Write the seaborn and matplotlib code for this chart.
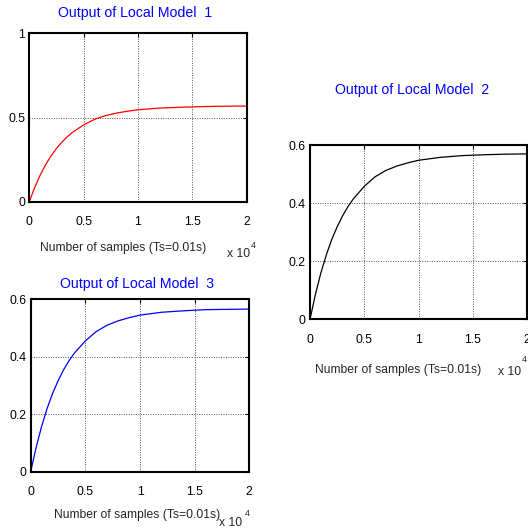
import matplotlib
matplotlib.use("Agg")
import matplotlib.pyplot as plt
import seaborn as sns
import pandas as pd
from matplotlib.ticker import FuncFormatter

# ---- data ----
samples = [0, 500, 1000, 1500, 2000, 2500, 3000, 3500, 4000, 5000, 6000,
           7000, 8000, 9000, 10000, 12000, 14000, 16000, 18000, 20000]
model1 = [0, 0.085, 0.158, 0.220, 0.272, 0.316, 0.354, 0.386, 0.413, 0.456,
          0.489, 0.511, 0.526, 0.537, 0.546, 0.556, 0.561, 0.565, 0.567, 0.568]
model2 = [0, 0.086, 0.160, 0.222, 0.275, 0.319, 0.357, 0.389, 0.416, 0.459,
          0.492, 0.514, 0.529, 0.540, 0.549, 0.559, 0.565, 0.568, 0.570, 0.571]
model3 = [0, 0.085, 0.158, 0.220, 0.272, 0.316, 0.354, 0.386, 0.413, 0.455,
          0.488, 0.510, 0.525, 0.536, 0.545, 0.555, 0.560, 0.564, 0.565, 0.566]

titles = ["Output of Local Model  1", "Output of Local Model  2", "Output of Local Model  3"]
xlabel = "Number of samples (Ts=0.01s)"
xticks = [0, 5000, 10000, 15000, 20000]
yticks1 = [0, 0.5, 1]
yticks23 = [0, 0.2, 0.4, 0.6]

sns.set_style("white")
plt.rcParams['font.family'] = ['Liberation Sans', 'DejaVu Sans']

W, H = 528, 530
fig = plt.figure(figsize=(W / 100, H / 100), dpi=100)


def fx(x):
    return x / W


def fy(y):
    return 1 - y / H


def make_axes(left, top, right, bottom):
    return fig.add_axes([fx(left), fy(bottom), (right - left) / W, (bottom - top) / H])


ax1 = make_axes(29.3, 33.3, 246.7, 201.7)
ax2 = make_axes(310, 145.5, 527, 319.3)
ax3 = make_axes(30.7, 299.3, 249.3, 471.7)

df = pd.DataFrame({"samples": samples, "m1": model1, "m2": model2, "m3": model3})

sns.lineplot(data=df, x="samples", y="m1", ax=ax1, color="red", linewidth=0.9)
sns.lineplot(data=df, x="samples", y="m2", ax=ax2, color="black", linewidth=0.9)
sns.lineplot(data=df, x="samples", y="m3", ax=ax3, color="blue", linewidth=0.9)

fmt = FuncFormatter(lambda v, p: f"{v / 1e4:g}")

for ax, yt in [(ax1, yticks1), (ax2, yticks23), (ax3, yticks23)]:
    ax.set_xlim(0, 20000)
    ax.set_ylim(yt[0], yt[-1])
    ax.set_xticks(xticks)
    ax.set_yticks(yt)
    ax.xaxis.set_major_formatter(fmt)
    ax.yaxis.set_major_formatter(FuncFormatter(lambda v, p: f"{v:g}"))
    ax.set_xlabel("")
    ax.set_ylabel("")
    ax.grid(True, linestyle=(0, (1, 1.5)), color="#555555", linewidth=0.7)
    for s in ax.spines.values():
        s.set_visible(True)
        s.set_color("black")
        s.set_linewidth(1.5)
    ax.tick_params(axis="both", direction="in", top=True, right=True,
                   length=3, width=0.8, colors="black", labelsize=8.8)
    ax.tick_params(axis="x", pad=10.5)
    ax.tick_params(axis="y", pad=3)

# titles
for (cx, cy), t in zip([(135, 13), (412, 90), (137, 284)], titles):
    fig.text(fx(cx), fy(cy), t, ha="center", va="center", color="blue", fontsize=10.2)

# x labels
for cx, cy in [(123, 248), (398, 370), (137.5, 515)]:
    fig.text(fx(cx), fy(cy), xlabel, ha="center", va="center", fontsize=8.7)

# exponent labels
for (bx, by), (ex, ey) in [((239, 254), (253, 245)), ((510, 372), (524, 360)),
                           ((231, 523), (247, 513))]:
    fig.text(fx(bx), fy(by), "x 10", ha="center", va="center", fontsize=8.7)
    fig.text(fx(ex), fy(ey), "4", ha="center", va="center", fontsize=6.5)

fig.savefig("out.png", dpi=100, facecolor="white")
